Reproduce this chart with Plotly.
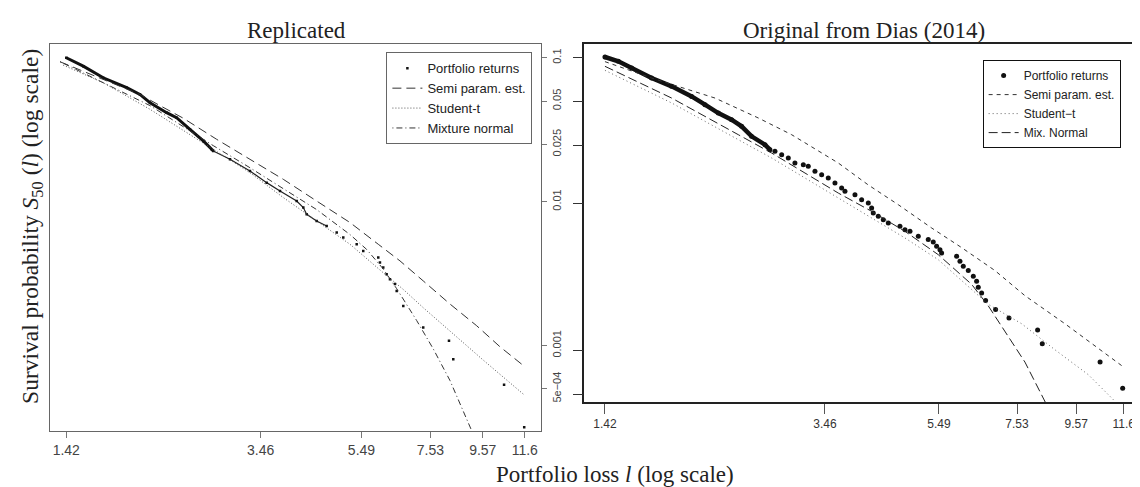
import plotly.graph_objects as go

# ---------------- data ----------------
x_ticks = [1.42, 3.46, 5.49, 7.53, 9.57, 11.6]
x_tick_labels = ["1.42", "3.46", "5.49", "7.53", "9.57", "11.6"]
y_ticks = [0.1, 0.05, 0.025, 0.01, 0.001, 0.0005]
y_tick_labels = ["0.1", "0.05", "0.025", "0.01", "0.001", "5e\u221204"]

# Left panel: "Replicated"
rep_ret_loss = [1.42, 1.535, 1.682, 1.873, 1.990, 2.084, 2.249, 2.354, 2.502, 2.660,
                2.764, 2.784, 3.006, 3.294, 3.556, 3.780, 4.080, 4.206, 4.271, 4.471,
                4.681, 4.901, 5.051, 5.371, 5.535, 5.929, 5.975, 6.066, 6.161, 6.255,
                6.400, 6.451, 6.649, 7.285, 8.197, 8.360, 10.55, 11.57]
rep_ret_surv = [0.100, 0.0874, 0.0726, 0.0619, 0.0556, 0.0487, 0.0415, 0.0383, 0.0318, 0.0264,
                0.0231, 0.02246, 0.01968, 0.01631, 0.01355, 0.01186, 0.01009, 0.00909, 0.00817, 0.00733,
                0.00677, 0.0061, 0.00562, 0.00505, 0.00454, 0.00408, 0.00377, 0.00348, 0.00313, 0.00288,
                0.00267, 0.00239, 0.00188, 0.00133, 0.00108, 0.000803, 0.000532, 0.00027]

rep_semi_loss = [1.38, 1.99, 2.181, 2.427, 2.828, 3.294, 3.837, 4.471, 5.209, 5.929,
                 6.549, 7.285, 8.235, 9.307, 10.35, 11.61]
rep_semi_surv = [0.0938, 0.0556, 0.0465, 0.0380, 0.0271, 0.01968, 0.01429, 0.01009, 0.00715, 0.00505,
                 0.00387, 0.00281, 0.00194, 0.00137, 0.00098, 0.00071]

rep_t_loss = [1.40, 1.682, 2.084, 2.743, 3.294, 3.837, 4.471, 5.209, 6.066, 6.649,
              7.285, 8.235, 9.592, 11.52]
rep_t_surv = [0.0889, 0.0671, 0.0438, 0.0237, 0.0159, 0.01067, 0.00733, 0.00505, 0.0032, 0.00245,
              0.00183, 0.00125, 0.00079, 0.000459]

rep_mix_loss = [1.38, 2.084, 2.784, 3.294, 3.837, 4.471, 5.209, 5.622, 6.066, 6.451,
                7.069, 7.628, 8.235, 9.18]
rep_mix_surv = [0.094, 0.0465, 0.0245, 0.0172, 0.0123, 0.0088, 0.0059, 0.00465, 0.0034, 0.00248,
                0.00149, 0.000946, 0.00057, 0.000237]

# Right panel: "Original from Dias (2014)"
orig_ret_loss = [1.42, 1.499, 1.582, 1.715, 1.860, 2.017, 2.129, 2.247, 2.371, 2.469,
                 2.571, 2.714, 2.769, 2.826, 2.904, 2.983, 3.064, 3.170, 3.234, 3.323,
                 3.414, 3.507, 3.603, 3.702, 3.752, 3.907, 4.014, 4.124, 4.180, 4.208,
                 4.294, 4.382, 4.472, 4.688, 4.784, 4.882, 5.049, 5.257, 5.365, 5.438,
                 5.512, 5.549, 5.897, 5.977, 6.058, 6.182, 6.309, 6.394, 6.437, 6.525,
                 6.631, 6.905, 7.289, 8.185, 8.341, 10.54, 11.55]
orig_ret_surv = [0.1, 0.0934, 0.0841, 0.0719, 0.0631, 0.0539, 0.0473, 0.0415, 0.0374, 0.0337,
                 0.02879, 0.02526, 0.02335, 0.02275, 0.02159, 0.0205, 0.01894, 0.01845, 0.01797, 0.01662,
                 0.01577, 0.01497, 0.01384, 0.01279, 0.01214, 0.01151, 0.01065, 0.0101, 0.00935, 0.00864,
                 0.0082, 0.00778, 0.00739, 0.00701, 0.00665, 0.00648, 0.00599, 0.00569, 0.00548, 0.00512,
                 0.00486, 0.00461, 0.00438, 0.00405, 0.00374, 0.0035, 0.0032, 0.00296, 0.00269, 0.00246,
                 0.00219, 0.0019, 0.00166, 0.00138, 0.00111, 0.000832, 0.000553]

orig_semi_loss = [1.42, 1.715, 2.217, 2.642, 3.023, 3.652, 4.124, 4.657, 5.330, 6.017,
                  6.887, 7.776, 9.142, 11.50]
orig_semi_surv = [0.093, 0.0719, 0.0525, 0.0384, 0.02955, 0.01894, 0.01342, 0.00984, 0.00683, 0.00502,
                  0.0035, 0.00236, 0.00152, 0.000788]

orig_t_loss = [1.42, 1.860, 2.436, 2.788, 3.191, 3.652, 4.180, 4.784, 5.475, 6.267,
               6.704, 7.672, 8.780, 10.05, 11.20]
orig_t_surv = [0.0811, 0.0486, 0.02732, 0.0205, 0.01497, 0.01093, 0.00799, 0.00584, 0.00415, 0.00261,
               0.00206, 0.00152, 0.00101, 0.000683, 0.000449]

orig_mix_loss = [1.42, 1.860, 2.436, 2.788, 3.191, 3.652, 4.180, 4.784, 5.475, 6.267,
                 6.704, 7.171, 7.776, 8.489]
orig_mix_surv = [0.0864, 0.0525, 0.02955, 0.02216, 0.01619, 0.01182, 0.00887, 0.00648, 0.00449, 0.00282,
                 0.00201, 0.001356, 0.000832, 0.000426]

# ---------------- figure ----------------
SERIF = "Liberation Serif, Times New Roman, serif"
SANS = "Liberation Sans, Arial, sans-serif"

fig = go.Figure()

# left panel
fig.add_trace(go.Scatter(x=rep_ret_loss[:12], y=rep_ret_surv[:12], mode="lines",
                         line=dict(color="#111", width=3), showlegend=False,
                         xaxis="x", yaxis="y", hoverinfo="skip"))
fig.add_trace(go.Scatter(x=rep_ret_loss[11:21], y=rep_ret_surv[11:21], mode="lines",
                         line=dict(color="#222", width=1.2), showlegend=False,
                         xaxis="x", yaxis="y", hoverinfo="skip"))
fig.add_trace(go.Scatter(x=rep_ret_loss, y=rep_ret_surv, mode="markers", name="Portfolio returns",
                         marker=dict(symbol="square", size=2.5, color="#111"),
                         xaxis="x", yaxis="y", legend="legend"))
fig.add_trace(go.Scatter(x=rep_semi_loss, y=rep_semi_surv, mode="lines", name="Semi param. est.",
                         line=dict(color="#333", width=1, dash="9px,5px"),
                         xaxis="x", yaxis="y", legend="legend"))
fig.add_trace(go.Scatter(x=rep_t_loss, y=rep_t_surv, mode="lines", name="Student-t",
                         line=dict(color="#555", width=1, dash="1px,2px"),
                         xaxis="x", yaxis="y", legend="legend"))
fig.add_trace(go.Scatter(x=rep_mix_loss, y=rep_mix_surv, mode="lines", name="Mixture normal",
                         line=dict(color="#333", width=1, dash="1px,3px,6px,3px"),
                         xaxis="x", yaxis="y", legend="legend"))

# right panel
fig.add_trace(go.Scatter(x=orig_ret_loss[:13], y=orig_ret_surv[:13], mode="lines",
                         line=dict(color="#111", width=4.5), showlegend=False,
                         xaxis="x2", yaxis="y2", hoverinfo="skip"))
fig.add_trace(go.Scatter(x=orig_ret_loss, y=orig_ret_surv, mode="markers", name="Portfolio returns",
                         marker=dict(symbol="circle", size=5, color="#111"),
                         xaxis="x2", yaxis="y2", legend="legend2"))
fig.add_trace(go.Scatter(x=orig_semi_loss, y=orig_semi_surv, mode="lines", name="Semi param. est.",
                         line=dict(color="#333", width=1, dash="4px,4px"),
                         xaxis="x2", yaxis="y2", legend="legend2"))
fig.add_trace(go.Scatter(x=orig_t_loss, y=orig_t_surv, mode="lines", name="Student\u2212t",
                         line=dict(color="#666", width=1, dash="1px,3px"),
                         xaxis="x2", yaxis="y2", legend="legend2"))
fig.add_trace(go.Scatter(x=orig_mix_loss, y=orig_mix_surv, mode="lines", name="Mix. Normal",
                         line=dict(color="#222", width=1, dash="9px,4px"),
                         xaxis="x2", yaxis="y2", legend="legend2"))

common_axis = dict(type="log", showgrid=False, zeroline=False, showline=True, mirror=True,
                   tickmode="array", ticks="outside", tickwidth=1)

fig.update_layout(
    width=1140, height=487,
    margin=dict(l=0, r=0, t=0, b=0),
    paper_bgcolor="white", plot_bgcolor="white",
    xaxis=dict(**common_axis, domain=[0.0371, 0.4678], range=[0.1205, 1.0973], anchor="y",
               tickvals=x_ticks, ticktext=x_tick_labels, ticklen=6, tickcolor="#777",
               linecolor="#666", linewidth=1,
               tickfont=dict(family=SANS, size=14, color="#444")),
    yaxis=dict(**common_axis, domain=[0.1308, 0.9251], range=[-3.597, -0.9076], anchor="x",
               side="right", tickvals=y_ticks, ticktext=y_tick_labels, tickangle=-90,
               ticklen=5, tickcolor="#777", linecolor="#666", linewidth=1,
               tickfont=dict(family=SANS, size=11, color="#444")),
    xaxis2=dict(**common_axis, domain=[0.5057, 0.9956], range=[0.1163, 1.0983], anchor="y2",
                tickvals=x_ticks, ticktext=x_tick_labels, ticklen=10, tickcolor="#555",
                linecolor="#222", linewidth=1.5,
                tickfont=dict(family=SANS, size=12, color="#333")),
    yaxis2=dict(**common_axis, domain=[0.1903, 0.9267], range=[-3.354, -0.9093], anchor="x2",
                side="left", tickvals=y_ticks, showticklabels=False,
                ticklen=10, tickcolor="#333", linecolor="#222", linewidth=1.5),
    legend=dict(x=0.46, y=0.909, xanchor="right", yanchor="top",
                bgcolor="white", bordercolor="#666", borderwidth=1,
                font=dict(family=SANS, size=13, color="#222"),
                tracegroupgap=0, itemwidth=30),
    legend2=dict(x=0.976, y=0.893, xanchor="right", yanchor="top",
                 bgcolor="white", bordercolor="#111", borderwidth=1,
                 font=dict(family=SANS, size=12, color="#222"),
                 tracegroupgap=0, itemwidth=30),
    annotations=[
        dict(text="Replicated", x=0.2533, y=0.9528, xref="paper", yref="paper",
             showarrow=False, xanchor="center", yanchor="middle",
             font=dict(family=SERIF, size=23, color="#222")),
        dict(text="Original from Dias (2014)", x=0.7507, y=0.9528, xref="paper", yref="paper",
             showarrow=False, xanchor="center", yanchor="middle",
             font=dict(family=SERIF, size=23, color="#222")),
        dict(text="Portfolio loss <i>l</i> (log scale)", x=0.5325, y=0.042,
             xref="paper", yref="paper", showarrow=False, xanchor="center", yanchor="middle",
             font=dict(family=SERIF, size=23, color="#222")),
        dict(text="Survival probability <i>S</i><sub>50</sub> (<i>l</i>) (log scale)",
             x=0.021, y=0.5524, xref="paper", yref="paper", textangle=-90,
             showarrow=False, xanchor="center", yanchor="middle",
             font=dict(family=SERIF, size=23.5, color="#222")),
    ],
)

fig.write_html("out.html")
